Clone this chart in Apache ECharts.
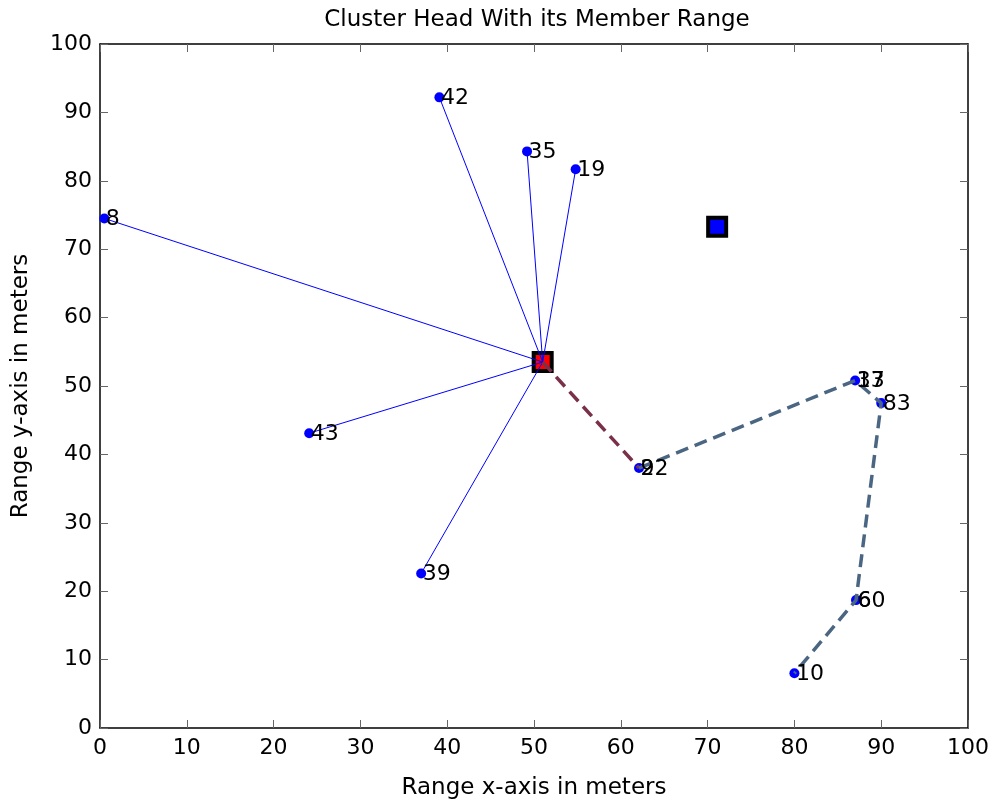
<!DOCTYPE html>
<html>
<head>
<meta charset="utf-8">
<script src="https://cdn.jsdelivr.net/npm/echarts@6/dist/echarts.min.js"></script>
<style>
  html, body { margin: 0; padding: 0; background: #fff; }
  #chart { width: 995px; height: 805px; }
</style>
</head>
<body>
<div id="chart"></div>
<script>
// Cluster head position
const headPos = [51.0, 53.5];
// Second (unused) cluster head
const otherHeadPos = [71.1, 73.3];

// Direct members linked to the cluster head
const memberIds = ['8', '42', '35', '19', '43', '39'];
const memberX = [0.5, 39.1, 49.2, 54.8, 24.1, 37.0];
const memberY = [74.5, 92.2, 84.3, 81.7, 43.1, 22.6];

// Multi-hop relay chain starting at the cluster head
const chainIds = ['22', '37', '83', '60', '10'];
const chainX = [62.1, 87.0, 90.0, 87.1, 80.0];
const chainY = [38.0, 50.8, 47.5, 18.7, 8.0];

// Nodes sitting on the same spot as a chain node
const stackedIds = ['9', '13', '6'];
const stackedX = [62.1, 87.0, 87.1];
const stackedY = [38.0, 50.8, 18.7];

const axisTicks = [0, 10, 20, 30, 40, 50, 60, 70, 80, 90, 100];

const FONT = 'DejaVu Sans, sans-serif';

const memberPts = memberX.map((x, i) => [x, memberY[i], memberIds[i]]);
const chainPts = chainX.map((x, i) => [x, chainY[i], chainIds[i]]);
const stackedPts = stackedX.map((x, i) => [x, stackedY[i], stackedIds[i]]);
const labelPts = memberPts.concat(stackedPts, chainPts);

const baseAxis = {
  min: axisTicks[0],
  max: axisTicks[axisTicks.length - 1],
  interval: axisTicks[1] - axisTicks[0],
  splitLine: { show: false },
  axisLine: { show: true, onZero: false, lineStyle: { color: '#000', width: 1.5 } },
  axisTick: { show: true, inside: true, length: 8, lineStyle: { color: '#666', width: 1 } }
};

const chart = echarts.init(document.getElementById('chart'), null, { renderer: 'canvas' });

chart.setOption({
  animation: false,
  backgroundColor: '#fff',
  title: {
    text: 'Cluster Head With its Member Range',
    left: 532, top: 4, textAlign: 'center',
    textStyle: { fontFamily: FONT, fontSize: 23, fontWeight: 'normal', color: '#000' }
  },
  grid: { left: 100, right: 27, top: 44, bottom: 76 },
  xAxis: [
    Object.assign({}, baseAxis, {
      type: 'value', position: 'bottom',
      name: 'Range x-axis in meters', nameLocation: 'middle', nameGap: 49,
      nameTextStyle: { fontFamily: FONT, fontSize: 23, color: '#000' },
      axisLabel: { fontFamily: FONT, fontSize: 22, color: '#000', margin: 9 }
    }),
    Object.assign({}, baseAxis, {
      type: 'value', position: 'top', axisLabel: { show: false }
    })
  ],
  yAxis: [
    Object.assign({}, baseAxis, {
      type: 'value', position: 'left',
      name: 'Range y-axis in meters', nameLocation: 'middle', nameGap: 67, nameRotate: 90,
      nameTextStyle: { fontFamily: FONT, fontSize: 23, color: '#000' },
      axisLabel: { fontFamily: FONT, fontSize: 22, color: '#000', margin: 8 }
    }),
    Object.assign({}, baseAxis, {
      type: 'value', position: 'right', axisLabel: { show: false }
    })
  ],
  series: [
    {
      name: 'head',
      type: 'scatter',
      z: 2,
      symbol: 'rect', symbolSize: 18,
      itemStyle: { color: '#ff0000', borderColor: '#000', borderWidth: 4, opacity: 1 },
      data: [headPos]
    },
    {
      name: 'otherHead',
      type: 'scatter',
      z: 2,
      symbol: 'rect', symbolSize: 18,
      itemStyle: { color: '#0000ff', borderColor: '#000', borderWidth: 4, opacity: 1 },
      data: [otherHeadPos]
    },
    {
      name: 'links',
      type: 'lines',
      coordinateSystem: 'cartesian2d',
      z: 3,
      lineStyle: { color: '#0000ff', width: 1, opacity: 1 },
      data: memberPts.map(p => ({ coords: [headPos, [p[0], p[1]]] }))
    },
    {
      name: 'nodes',
      type: 'scatter',
      z: 4,
      symbol: 'circle', symbolSize: 10,
      itemStyle: { color: '#0000ff', opacity: 1 },
      data: memberPts.concat(chainPts)
    },
    {
      name: 'headHop',
      type: 'line',
      z: 5,
      showSymbol: false, symbol: 'none',
      lineStyle: { color: '#7a3048', width: 3.5, type: [13, 7] },
      data: [headPos, [chainX[0], chainY[0]]]
    },
    {
      name: 'chain',
      type: 'line',
      z: 5,
      showSymbol: false, symbol: 'none',
      lineStyle: { color: '#4b6682', width: 3.5, type: [13, 7] },
      data: chainPts.map(p => [p[0], p[1]])
    },
    {
      name: 'labels',
      type: 'scatter',
      z: 6,
      symbolSize: 1,
      itemStyle: { color: 'transparent', opacity: 1 },
      label: {
        show: true, position: 'right', distance: 1, offset: [0, 1],
        formatter: p => p.data[2],
        fontFamily: FONT, fontSize: 22, color: '#000', opacity: 1
      },
      data: labelPts
    }
  ]
});
</script>
</body>
</html>
